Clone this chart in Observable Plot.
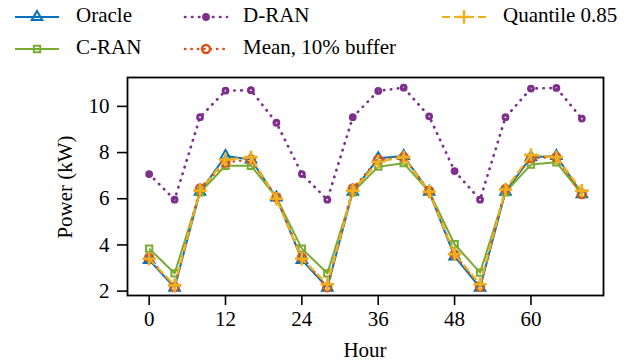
<!DOCTYPE html>
<html>
<head>
<meta charset="utf-8">
<script src="https://cdn.jsdelivr.net/npm/d3@7"></script>
<script src="https://cdn.jsdelivr.net/npm/@observablehq/plot@0.6"></script>
<style>
  html, body { margin: 0; padding: 0; background: #fff; }
  svg { display: block; }
  svg text { font-family: "Liberation Serif", "Times New Roman", Times, "DejaVu Serif", serif !important; }
</style>
</head>
<body>
<div id="chart"></div>
<script>
const hours = [0, 4, 8, 12, 16, 20, 24, 28, 32, 36, 40, 44, 48, 52, 56, 60, 64, 68];
const oracle   = [3.35, 2.15, 6.30, 7.85, 7.70, 6.05, 3.35, 2.15, 6.30, 7.75, 7.85, 6.30, 3.50, 2.15, 6.30, 7.80, 7.85, 6.20];
const cran     = [3.84, 2.77, 6.28, 7.43, 7.43, 6.06, 3.84, 2.77, 6.28, 7.39, 7.54, 6.30, 4.03, 2.80, 6.28, 7.48, 7.58, 6.20];
const dran     = [7.07, 5.96, 9.53, 10.68, 10.70, 9.29, 7.07, 5.96, 9.53, 10.67, 10.81, 9.57, 7.20, 5.96, 9.53, 10.77, 10.80, 9.47];
const mean10   = [3.45, 2.17, 6.45, 7.57, 7.70, 6.06, 3.45, 2.17, 6.45, 7.70, 7.80, 6.34, 3.59, 2.19, 6.42, 7.76, 7.80, 6.20];
const quant85  = [3.40, 2.25, 6.35, 7.70, 7.80, 6.00, 3.40, 2.30, 6.35, 7.60, 7.80, 6.30, 3.60, 2.30, 6.40, 7.90, 7.80, 6.35];
const xTicks = [0, 12, 24, 36, 48, 60];
const yTicks = [2, 4, 6, 8, 10];
const seriesNames = ["Oracle", "C-RAN", "D-RAN", "Mean, 10% buffer", "Quantile 0.85"];

const styles = {
  "Oracle":           {color: "#0072BD", dash: null,      cap: "butt",  lw: 2,   symbol: "triangle", r: 3.9, sw: 2},
  "C-RAN":            {color: "#77AC30", dash: null,      cap: "butt",  lw: 2,   symbol: "square",   r: 3.6, sw: 2},
  "D-RAN":            {color: "#7E2F8E", dash: "0.4,6.6", cap: "round", lw: 2.7, symbol: "circle",   r: 2.4, sw: 3},
  "Mean, 10% buffer": {color: "#D95319", dash: "0.4,6",   cap: "round", lw: 2.5, symbol: "circle",   r: 4.0, sw: 2.4},
  "Quantile 0.85":    {color: "#EDB120", dash: "8,4",     cap: "butt",  lw: 2.2, symbol: "plus",     r: 4.4, sw: 2.6}
};
const values = [oracle, cran, dran, mean10, quant85];
const data = seriesNames.map((name, i) => hours.map((h, j) => ({hour: h, power: values[i][j], series: name})));

const marks = [];
seriesNames.forEach((name, i) => {
  const s = styles[name];
  marks.push(Plot.line(data[i], {x: "hour", y: "power", stroke: s.color, strokeWidth: s.lw, strokeDasharray: s.dash ?? undefined, strokeLinecap: s.cap}));
  marks.push(Plot.dot(data[i], {x: "hour", y: "power", symbol: s.symbol, r: s.r, stroke: s.color, strokeWidth: s.sw, fill: "none"}));
});

const chart = Plot.plot({
  width: 631,
  height: 364,
  marginLeft: 127,
  marginRight: 28,
  marginTop: 77,
  marginBottom: 69,
  style: {fontFamily: "Liberation Serif, serif", fontSize: "21px", color: "#000", background: "#fff"},
  x: {domain: [-3.4, 71.4]},
  y: {domain: [1.81, 11.25]},
  marks: [
    Plot.axisX(xTicks, {tickSize: 10, tickPadding: 6, strokeWidth: 1.6, label: null, fontSize: 21}),
    Plot.axisY(yTicks, {tickSize: 10, tickPadding: 8, strokeWidth: 1.6, label: null, fontSize: 21}),
    ...marks,
    Plot.frame({stroke: "#000", strokeWidth: 1.8})
  ]
});

const svg = d3.select(chart);

// axis titles
svg.append("text").attr("x", 365).attr("y", 352).attr("text-anchor", "middle").attr("dominant-baseline", "middle")
  .attr("font-size", 21).attr("fill", "#000").text("Hour");
svg.append("text").attr("transform", "translate(67,187) rotate(-90)").attr("text-anchor", "middle").attr("dominant-baseline", "middle")
  .attr("font-size", 21).attr("fill", "#000").text("Power (kW)");

// legend
const legendPos = {
  "Oracle":           {x1: 15,  x2: 59,  y: 17, tx: 76},
  "C-RAN":            {x1: 15,  x2: 59,  y: 49, tx: 76},
  "D-RAN":            {x1: 185, x2: 227, y: 17, tx: 243},
  "Mean, 10% buffer": {x1: 185, x2: 227, y: 49, tx: 243},
  "Quantile 0.85":    {x1: 442, x2: 486, y: 17, tx: 503}
};
const symMap = {triangle: d3.symbolTriangle, square: d3.symbolSquare, circle: d3.symbolCircle, plus: d3.symbolPlus};
seriesNames.forEach(name => {
  const s = styles[name], p = legendPos[name];
  const g = svg.append("g");
  g.append("line").attr("x1", p.x1).attr("x2", p.x2).attr("y1", p.y).attr("y2", p.y)
    .attr("stroke", s.color).attr("stroke-width", s.lw)
    .attr("stroke-dasharray", s.dash).attr("stroke-linecap", s.cap);
  g.append("path").attr("transform", `translate(${(p.x1 + p.x2) / 2},${p.y})`)
    .attr("d", d3.symbol(symMap[s.symbol], Math.PI * s.r * s.r)())
    .attr("fill", "none").attr("stroke", s.color).attr("stroke-width", s.sw);
  g.append("text").attr("x", p.tx).attr("y", p.y).attr("text-anchor", "start").attr("dominant-baseline", "middle")
    .attr("font-size", 21).attr("fill", "#000").text(name);
});

document.getElementById("chart").appendChild(chart);
</script>
</body>
</html>
